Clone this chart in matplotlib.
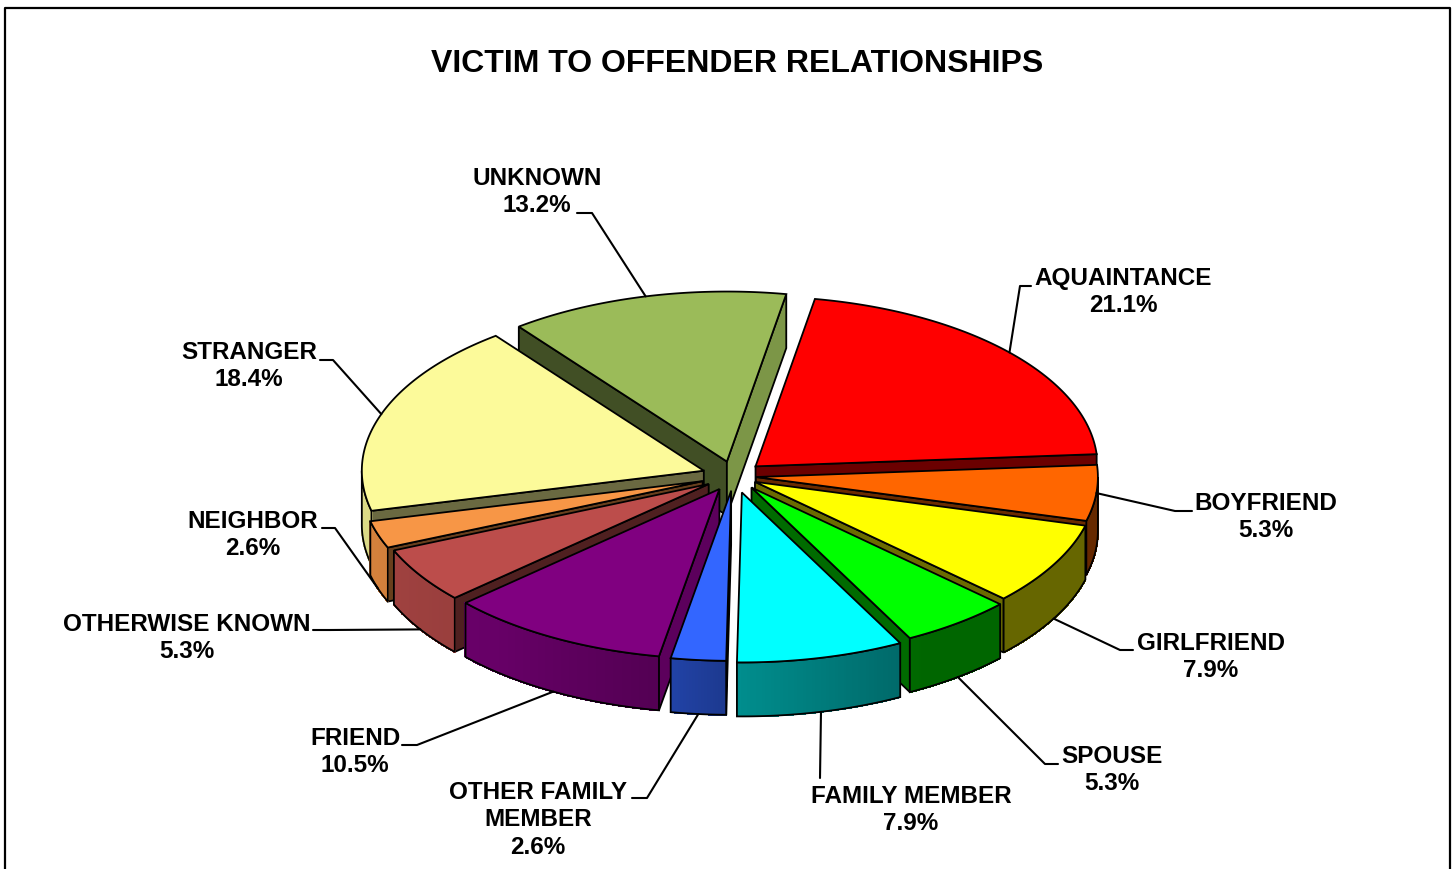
#!/usr/bin/env python
# exploded 3d style pie, matplotlib has no real one so the wedges are built by hand
import numpy as np
import matplotlib
matplotlib.use("Agg")
import matplotlib.pyplot as plt
from matplotlib.patches import Polygon

plt.rcParams['font.family'] = ['Liberation Sans', 'DejaVu Sans']

categories = ["AQUAINTANCE", "BOYFRIEND", "GIRLFRIEND", "SPOUSE", "FAMILY MEMBER",
              "OTHER FAMILY\nMEMBER", "FRIEND", "OTHERWISE KNOWN", "NEIGHBOR",
              "STRANGER", "UNKNOWN"]
percent = [21.1, 5.3, 7.9, 5.3, 7.9, 2.6, 10.5, 5.3, 2.6, 18.4, 13.2]
colors = ["#FF0000", "#FF6600", "#FFFF00", "#00FF00", "#00FFFF", "#3366FF",
          "#800080", "#BC4D4B", "#F79646", "#FCFA9A", "#9BBB59"]

# layout, in pixels of the picture
CX, CY = 734, 476
RADIUS = 342
TILT = 0.497
DEPTH = 54
START = 10
explode = [29, 22, 24, 29, 34, 30, 30, 30, 33, 32, 30]
label_xy = [(1123, 292), (1266, 517), (1211, 657), (1112, 770), (911, 810), (538, 820),
            (355, 752), (187, 638), (253, 535), (249, 366), (537, 192)]
elbows = [[(1031, 286), (1020, 286)], [(1192, 511), (1175, 511)], [(1133, 650), (1120, 650)],
          [(1058, 764), (1045, 764)], [(820, 778)], [(632, 798), (647, 798)],
          [(402, 745), (417, 745)], [(313, 630), (330, 630)], [(322, 528), (335, 528)],
          [(320, 360), (333, 360)], [(577, 213), (592, 213)]]


def shade(col, f):
    return tuple(c * f for c in matplotlib.colors.to_rgb(col))


def arc_shade(a):
    # walls get darker going round from left to lower right
    return np.interp(a, [90, 150, 180, 190, 220, 260, 270], [0.4, 0.4, 0.55, 0.65, 0.8, 0.87, 0.87])


def rim(ox, oy, a):
    t = np.radians(a)
    return ox + RADIUS * np.sin(t), oy - RADIUS * TILT * np.cos(t)


fig = plt.figure(figsize=(14.56, 8.69), dpi=100)
ax = fig.add_axes([0, 0, 1, 1])
ax.set_xlim(0, 1456)
ax.set_ylim(869, 0)
ax.axis("off")

# frame runs off the bottom of the picture
ax.plot([5, 5, 1450, 1450], [880, 8, 8, 880], color="black", lw=1.6, zorder=1)

edges = np.cumsum([0] + percent) / sum(percent) * 360 + START
wedges = []
for i in range(len(percent)):
    a1, a2 = edges[i], edges[i + 1]
    mid = (a1 + a2) / 2
    t = np.radians(mid)
    ox = CX + explode[i] * np.sin(t)
    oy = CY - explode[i] * TILT * np.cos(t)
    wedges.append((i, a1, a2, mid, ox, oy))

leaders = []
z = 2
# back wedges first so the front ones paint over them
for i, a1, a2, mid, ox, oy in sorted(wedges, key=lambda w: -np.cos(np.radians(w[3]))):
    col = colors[i]
    # side walls along the cuts
    if np.sin(np.radians(a1)) < 0:
        f = 0.72 if 180 < a1 < 200 else 0.42
        x, y = rim(ox, oy, a1)
        ax.add_patch(Polygon([(ox, oy), (x, y), (x, y + DEPTH), (ox, oy + DEPTH)], closed=True,
                             fc=shade(col, f), ec="black", lw=1.3, zorder=z))
    if np.sin(np.radians(a2)) > 0:
        f = 0.8 if a2 > 360 else 0.42
        x, y = rim(ox, oy, a2)
        ax.add_patch(Polygon([(ox, oy), (x, y), (x, y + DEPTH), (ox, oy + DEPTH)], closed=True,
                             fc=shade(col, f), ec="black", lw=1.3, zorder=z))
    # outer wall, only the part facing us
    lo, hi = max(a1, 90), min(a2, 270)
    if hi > lo:
        steps = np.linspace(lo, hi, int(hi - lo) * 2 + 2)
        xs, ys = rim(ox, oy, steps)
        for k in range(len(steps) - 1):
            c = shade(col, arc_shade((steps[k] + steps[k + 1]) / 2))
            ax.add_patch(Polygon([(xs[k], ys[k]), (xs[k + 1], ys[k + 1]),
                                  (xs[k + 1], ys[k + 1] + DEPTH), (xs[k], ys[k] + DEPTH)],
                                 closed=True, fc=c, ec=c, lw=0.8, antialiased=False, zorder=z))
        outline = list(zip(xs, ys)) + list(zip(xs[::-1], ys[::-1] + DEPTH))
        ax.add_patch(Polygon(outline, closed=True, fc="none", ec="black", lw=1.3, zorder=z))
    # top face
    steps = np.linspace(a1, a2, int(a2 - a1) * 2 + 2)
    xs, ys = rim(ox, oy, steps)
    ax.add_patch(Polygon([(ox, oy)] + list(zip(xs, ys)), closed=True, fc=col, ec="black",
                         lw=1.3, zorder=z))
    z += 1

    # where the leader touches the pie
    x, y = rim(ox, oy, mid)
    if np.cos(np.radians(mid)) < -0.2:
        y += DEPTH
    leaders.append((i, x, y))

for i, x, y in leaders:
    pts = elbows[i] + [(x, y)]
    ax.plot([p[0] for p in pts], [p[1] for p in pts], color="black", lw=1.5, zorder=50,
            solid_capstyle="round")
    ax.text(label_xy[i][0], label_xy[i][1], "%s\n%.1f%%" % (categories[i], percent[i]),
            ha="center", va="center", fontsize=17.5, fontweight="bold", linespacing=1.24,
            color="black", zorder=60)

ax.text(737, 63.5, "VICTIM TO OFFENDER RELATIONSHIPS", ha="center", va="center",
        fontsize=23, fontweight="bold", color="black", zorder=60)

fig.savefig("out.png", dpi=100)
